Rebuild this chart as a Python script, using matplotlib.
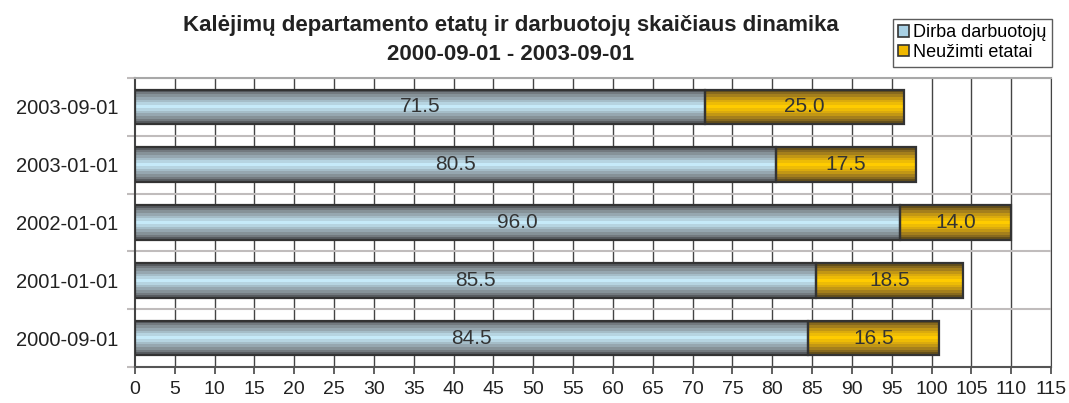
import numpy as np
import matplotlib.pyplot as plt
from matplotlib.colors import LinearSegmentedColormap
from matplotlib.patches import Patch, Rectangle

plt.rcParams["font.family"] = ["Liberation Sans", "DejaVu Sans"]

# duomenys (apačia -> viršus)
datos = ['2000-09-01', '2001-01-01', '2002-01-01', '2003-01-01', '2003-09-01']
dirba = [84.5, 85.5, 96.0, 80.5, 71.5]
neuzimti = [16.5, 18.5, 14.0, 17.5, 25.0]
x_ticks = list(range(0, 120, 5))

# spalvų gradientai (kraštas -> vidurys)
cm_blue = LinearSegmentedColormap.from_list('b', ['#585c60', '#7f878c', '#9fb4be', '#c6eaf9'])
cm_gold = LinearSegmentedColormap.from_list('g', ['#65501a', '#957420', '#d4a410', '#ffcc00'])

n_band = 13
prof = (1 - np.abs(np.linspace(-1, 1, n_band))) ** 0.8
prof = prof.reshape(-1, 1)

fig = plt.figure(figsize=(10.69, 4.03), dpi=100)
ax = fig.add_axes([135 / 1069, 1 - 367 / 403, (1051 - 135) / 1069, (367 - 78) / 403])

h = 0.6
y = np.arange(len(datos))


def grad_bar(x0, w, yc, cmap):
    ax.imshow(prof, cmap=cmap, vmin=0, vmax=1, aspect='auto', interpolation='nearest',
              extent=(x0, x0 + w, yc - h / 2, yc + h / 2), zorder=3)
    ax.add_patch(Rectangle((x0, yc - h / 2), w, h, fill=False, edgecolor='#333333', lw=1.6, zorder=4))


for i in range(len(datos)):
    grad_bar(0, dirba[i], y[i], cm_blue)
    grad_bar(dirba[i], neuzimti[i], y[i], cm_gold)
    ax.text(dirba[i] / 2, y[i], f'{dirba[i]:.1f}', ha='center', va='center',
            fontsize=15, color='#333333', zorder=5)
    ax.text(dirba[i] + neuzimti[i] / 2, y[i], f'{neuzimti[i]:.1f}', ha='center', va='center',
            fontsize=15, color='#333333', zorder=5)

ax.set_xlim(0, 115)
ax.set_ylim(-0.5, len(datos) - 0.5)
ax.set_xticks(x_ticks)
ax.set_xticklabels([str(v) for v in x_ticks], fontsize=14, color='#222222')
ax.set_yticks(y)
ax.set_yticklabels(datos, fontsize=14.5, color='#222222')
ax.tick_params(axis='y', length=0, pad=12)
ax.set_yticks(np.arange(-0.5, len(datos), 1), minor=True)
ax.tick_params(axis='y', which='minor', length=6, color='#c0bcbc', width=1.5)
ax.tick_params(axis='x', length=5, color='#444444', width=1.2, pad=5)

for v in x_ticks[1:]:
    ax.axvline(v, color='#444444', lw=1.0, zorder=1)
for b in np.arange(0.5, len(datos), 1):
    ax.axhline(b, color='#c0bcbc', lw=1.5, zorder=1)

ax.spines['top'].set_color('#a8a8a8')
ax.spines['top'].set_linewidth(1.5)
ax.spines['right'].set_color('#444444')
ax.spines['left'].set_color('#444444')
ax.spines['left'].set_linewidth(1.5)
ax.spines['bottom'].set_color('#555555')
ax.spines['bottom'].set_linewidth(1.5)

fig.text(0.478, 1 - 26 / 403, 'Kalėjimų departamento etatų ir darbuotojų skaičiaus dinamika',
         ha='center', va='center', fontsize=16, fontweight='bold', color='#222222')
fig.text(0.478, 1 - 54 / 403, '2000-09-01 - 2003-09-01',
         ha='center', va='center', fontsize=16, fontweight='bold', color='#222222')

handles = [Patch(facecolor='#a8d0e4', edgecolor='#333333', lw=1.2),
           Patch(facecolor='#f0b800', edgecolor='#333333', lw=1.2)]
leg = fig.legend(handles, ['Dirba darbuotojų', 'Neužimti etatai'], loc='upper left',
                 bbox_to_anchor=(893 / 1069, 1 - 19 / 403), fontsize=13, frameon=True,
                 fancybox=False, handlelength=0.6, handleheight=0.6, handletextpad=0.2,
                 borderpad=0.3, labelspacing=0.15, borderaxespad=0)
leg.get_frame().set_edgecolor('#333333')
leg.get_frame().set_linewidth(1.0)

plt.savefig('out.png', dpi=100)
